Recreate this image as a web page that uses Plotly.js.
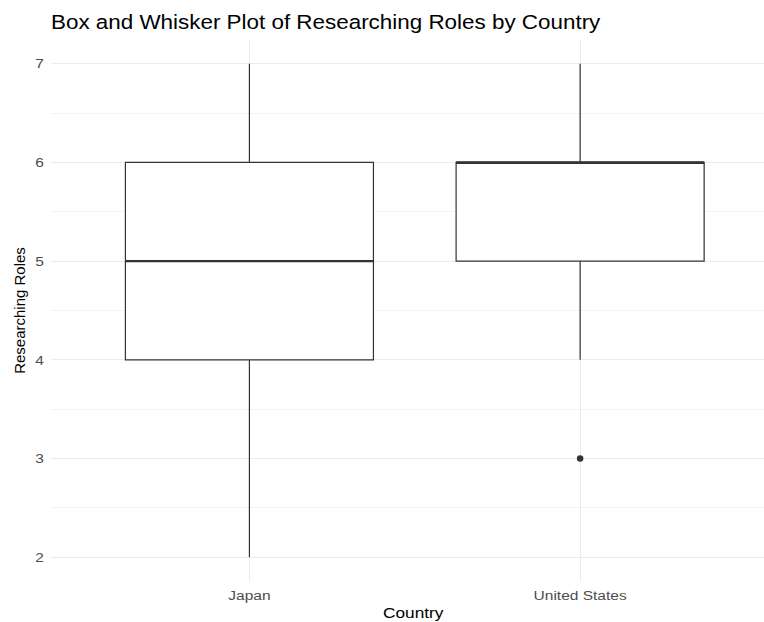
<!DOCTYPE html>
<html>
<head>
<meta charset="utf-8">
<script src="https://cdn.plot.ly/plotly-3.0.1.min.js"></script>
<style>html,body{margin:0;padding:0;background:#fff;}</style>
</head>
<body>
<div id="chart" style="width:764px;height:622px;"></div>
<script>
const countries = ['Japan', 'United States'];
const lowerWhisker = [2, 4];
const q1Values = [4, 5];
const medianValues = [5, 6];
const q3Values = [6, 6];
const upperWhisker = [7, 7];
const outlierCountry = ['United States'];
const outlierValues = [3];

const FONT = 'Liberation Sans, Arial, sans-serif';
const boxColor = '#333333';
const boxWidth = 0.75;
const textStretch = 1.15;

const traces = [
  {
    type: 'box',
    x: countries,
    q1: q1Values,
    median: medianValues,
    q3: q3Values,
    lowerfence: lowerWhisker,
    upperfence: upperWhisker,
    width: boxWidth,
    whiskerwidth: 0,
    fillcolor: '#ffffff',
    line: {color: boxColor, width: 1.2},
    boxpoints: false,
    hoverinfo: 'skip',
    showlegend: false
  },
  {
    type: 'scatter',
    mode: 'markers',
    x: outlierCountry,
    y: outlierValues,
    marker: {color: boxColor, size: 6.5},
    hoverinfo: 'skip',
    showlegend: false
  }
];

const shapes = countries.map((c, i) => ({
  type: 'line', xref: 'x', yref: 'y',
  x0: i - boxWidth / 2, x1: i + boxWidth / 2,
  y0: medianValues[i], y1: medianValues[i],
  line: {color: boxColor, width: 2.2}
}));

const layout = {
  width: 764, height: 622,
  margin: {l: 51, r: 0, t: 39, b: 40, pad: 0},
  paper_bgcolor: '#ffffff', plot_bgcolor: '#ffffff',
  font: {family: FONT},
  title: {
    text: 'Box and Whisker Plot of Researching Roles by Country',
    font: {family: FONT, size: 19.5, color: '#000000'},
    xref: 'paper', x: 0, xanchor: 'left',
    yref: 'container', y: 1 - 22 / 622, yanchor: 'middle'
  },
  xaxis: {
    type: 'category',
    categoryorder: 'array', categoryarray: countries,
    range: [-0.6, 1.556],
    showgrid: true, gridcolor: '#EBEBEB', gridwidth: 1,
    zeroline: false, showline: false, ticks: '',
    tickfont: {family: FONT, size: 13.5, color: '#4D4D4D'},
    ticklabelstandoff: 4
  },
  yaxis: {
    range: [1.75, 7.25],
    tick0: 2, dtick: 1,
    showgrid: true, gridcolor: '#EBEBEB', gridwidth: 1,
    minor: {tick0: 2, dtick: 0.5, showgrid: true, gridcolor: '#F0F0F0', gridwidth: 0.8, ticks: ''},
    zeroline: false, showline: false, ticks: '',
    tickfont: {family: FONT, size: 13.5, color: '#4D4D4D'},
    ticklabelstandoff: 6,
    title: {text: 'Researching Roles', font: {family: FONT, size: 15, color: '#000000'}, standoff: 7}
  },
  annotations: [{
    text: 'Country', xref: 'paper', yref: 'paper',
    x: (414 - 51) / 713, y: 0, yshift: -30,
    xanchor: 'center', yanchor: 'middle', showarrow: false,
    font: {family: FONT, size: 15, color: '#000000'}
  }],
  shapes: shapes
};

function stretchText(selector, k) {
  document.querySelectorAll(selector).forEach(t => {
    const bb = t.getBBox();
    const anchor = window.getComputedStyle(t).textAnchor || t.getAttribute('text-anchor') || 'start';
    const ax = anchor === 'middle' ? bb.x + bb.width / 2 : (anchor === 'end' ? bb.x + bb.width : bb.x);
    const prev = t.getAttribute('transform') || '';
    t.setAttribute('transform', prev + ' translate(' + ax + ',0) scale(' + k + ',1) translate(' + (-ax) + ',0)');
  });
}

Plotly.newPlot('chart', traces, layout, {displayModeBar: false, staticPlot: true}).then(() => {
  stretchText('#chart .gtitle', textStretch);
  stretchText('#chart .xtick text', textStretch);
  stretchText('#chart .ytick text', textStretch);
  stretchText('#chart .annotation-text', textStretch);
});
</script>
</body>
</html>
